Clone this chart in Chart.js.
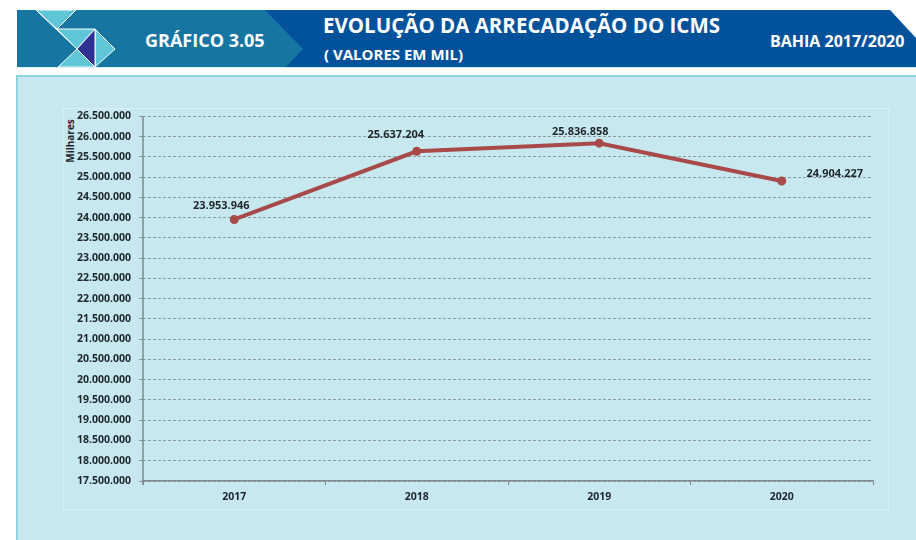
<!DOCTYPE html>
<html>
<head>
<meta charset="utf-8">
<script src="https://cdn.jsdelivr.net/npm/chart.js@4.4.1/dist/chart.umd.min.js"></script>
<style>
  body { margin: 0; width: 916px; height: 540px; background: #fff; overflow: hidden; font-family: "Open Sans", sans-serif; }
  #header { position: absolute; left: 0; top: 0; }
  .htxt { position: absolute; color: #fff; font-weight: bold; white-space: nowrap; }
  #panel { position: absolute; left: 16px; top: 75px; width: 910px; height: 480px; background: #c7e8ef;
           border-left: 2px solid #8fd5df; border-top: 2px solid #8fd5df; box-sizing: border-box; }
  #box { position: absolute; left: 63px; top: 108px; width: 826px; height: 402px; border: 1px solid #d9f0f5; box-sizing: border-box; }
  #wrap { position: absolute; left: 63px; top: 102px; width: 826px; height: 408px; }
  #unit { position: absolute; left: 45px; top: 134px; width: 50px; text-align: center; transform: rotate(-90deg);
          font-size: 10px; font-weight: bold; color: #1e262b; }
</style>
</head>
<body>
<svg id="header" width="916" height="75">
  <polygon points="265,10 890,10 916,38 916,67 265,67" fill="#02529b"/>
  <polygon points="17,10 265,10 303,49 286,67 17,67" fill="#1675a1"/>
  <g fill="#5ec6d6" stroke="#ffffff" stroke-width="1">
    <polygon points="36,10 76,10 57,29"/>
    <polygon points="57,29 95,29 77,49"/>
    <polygon points="95,29 115,49 95,67"/>
    <polygon points="77,49 95,67 58,67"/>
  </g>
  <polygon points="95,29 77,49 95,67" fill="#2e3192" stroke="#ffffff" stroke-width="1"/>
  <line x1="36" y1="10" x2="77" y2="49" stroke="#ffffff" stroke-width="1"/>
  <line x1="17" y1="67.5" x2="916" y2="67.5" stroke="#d8ecf3" stroke-width="1"/>
</svg>
<div class="htxt" style="left:145px; top:28px; font-size:18px;">GRÁFICO 3.05</div>
<div class="htxt" style="left:323px; top:11px; font-size:20.5px;">EVOLUÇÃO DA ARRECADAÇÃO DO ICMS</div>
<div class="htxt" style="left:324px; top:44px; font-size:15px;">( VALORES EM MIL)</div>
<div class="htxt" style="left:770px; top:30px; font-size:16px;">BAHIA 2017/2020</div>
<div id="panel"></div>
<div id="box"></div>
<div id="unit">Milhares</div>
<div id="wrap"><canvas id="chart"></canvas></div>
<script>
// data
const years = ["2017", "2018", "2019", "2020"];
const icms = [23953946, 25637204, 25836858, 24904227];
const yMin = 17500000;
const yMax = 26500000;
const yStep = 500000;

function fmt(v) {
  return String(Math.round(v)).replace(/\B(?=(\d{3})+(?!\d))/g, ".");
}

// where each value label sits relative to its point (dx, dy in px)
const labelOffsets = [[-13, -14], [-21, -16], [-19, -11], [53, -7]];

const valueLabels = {
  id: "valueLabels",
  afterDatasetsDraw(chart) {
    const ctx = chart.ctx;
    const meta = chart.getDatasetMeta(0);
    ctx.save();
    ctx.font = "bold 11px 'Open Sans'";
    ctx.fillStyle = "#1e262b";
    ctx.textAlign = "center";
    ctx.textBaseline = "middle";
    meta.data.forEach(function(pt, i) {
      const off = labelOffsets[i];
      ctx.fillText(fmt(icms[i]), pt.x + off[0], pt.y + off[1]);
    });
    ctx.restore();
  }
};

// solid vertical axis line (grid dash in v4 follows border.dash)
const solidYAxis = {
  id: "solidYAxis",
  beforeDatasetsDraw(chart) {
    const a = chart.chartArea;
    const ctx = chart.ctx;
    ctx.save();
    ctx.strokeStyle = "#808a8e";
    ctx.lineWidth = 1.5;
    ctx.beginPath();
    ctx.moveTo(a.left, a.top);
    ctx.lineTo(a.left, a.bottom + 4);
    ctx.stroke();
    ctx.restore();
  }
};

new Chart(document.getElementById("chart"), {
  type: "line",
  data: {
    labels: years,
    datasets: [{
      data: icms,
      borderColor: "#a94a4a",
      backgroundColor: "#a94a4a",
      borderWidth: 4,
      pointRadius: 2.5,
      pointHoverRadius: 2.5,
      tension: 0
    }]
  },
  options: {
    responsive: true,
    maintainAspectRatio: false,
    animation: false,
    layout: { padding: { top: 0, right: 16, left: 0, bottom: 0 } },
    plugins: { legend: { display: false }, tooltip: { enabled: false } },
    scales: {
      x: {
        offset: true,
        grid: { offset: true, drawOnChartArea: false, drawTicks: true, tickLength: 4, color: "#808a8e" },
        border: { color: "#808a8e", width: 1.5 },
        ticks: { color: "#1e262b", font: { family: "Open Sans", size: 10.5, weight: "bold" }, padding: 6 },
        afterFit(s) { s.height = 29; }
      },
      y: {
        min: yMin,
        max: yMax,
        ticks: {
          stepSize: yStep,
          color: "#1e262b",
          font: { family: "Open Sans", size: 10.5, weight: "bold" },
          padding: 8,
          callback: function(v) { return fmt(v); }
        },
        grid: { color: "#8c9a9f", lineWidth: 1, tickLength: 4, tickColor: "#8c9a9f" },
        border: { display: false, dash: [3, 2] },
        afterFit(s) { s.width = 80; }
      }
    }
  },
  plugins: [solidYAxis, valueLabels]
});
</script>
</body>
</html>
